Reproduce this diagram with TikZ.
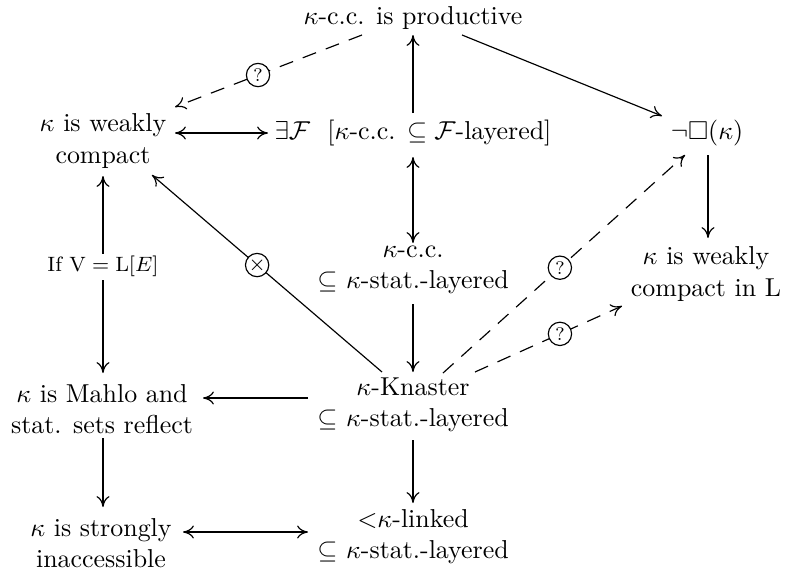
\documentclass[tikz,border=0pt]{standalone}
\usepackage{amssymb}
\usetikzlibrary{calc,arrows.meta}
\begin{document}
\begin{tikzpicture}[x=0.386pt,y=-0.386pt,
  txt/.style={align=center, inner sep=0pt},
  tipa/.tip={To[length=4.2pt,width=5pt,line width=0.45pt 0]},
  ar/.style={-tipa, line width=0.75pt},
  dar/.style={tipa-tipa, line width=0.75pt},
  dg/.style={-tipa, line width=0.45pt},
  dsh/.style={-tipa, line width=0.45pt, dash pattern=on 5.5pt off 4pt},
  qm/.style={circle, draw, line width=0.45pt, fill=white, inner sep=0pt, minimum size=9pt, font=\scriptsize, solid},
  cond/.style={fill=white, inner sep=1pt, font=\footnotesize}
]
\useasboundingbox (0,0) rectangle (785,570);

\node[txt] (top) at (413,18) {$\kappa$-c.c. is productive};
\node[txt] (F) at (413,133) {$\exists\mathcal{F}$\ \ [$\kappa$-c.c. $\subseteq\mathcal{F}$-layered]};
\node[txt] (box) at (707,133) {$\neg\square(\kappa)$};
\node[txt] (wc) at (103,141) {$\kappa$ is weakly\\compact};
\node[txt] (cc) at (413,270) {$\kappa$-c.c.\\$\subseteq$ $\kappa$-stat.-layered};
\node[txt] (wcL) at (706,274) {$\kappa$ is weakly\\compact in L};
\node[txt] (K) at (413,405) {$\kappa$-Knaster\\$\subseteq$ $\kappa$-stat.-layered};
\node[txt] (M) at (102,409) {$\kappa$ is Mahlo and\\stat. sets reflect};
\node[txt] (S) at (101,543) {$\kappa$ is strongly\\inaccessible};
\node[txt] (L) at (413,537) {${<}\kappa$-linked\\$\subseteq$ $\kappa$-stat.-layered};

% vertical / horizontal arrows
\draw[ar] ($(F)+(0,-20)$) -- ($(top)+(0,17)$);
\draw[dar] ($(cc)+(0,-27)$) -- ($(F)+(0,24)$);
\draw[ar] ($(cc)+(0,34)$) -- ($(K)+(0,-33)$);
\draw[ar] ($(K)+(0,35)$) -- ($(L)+(0,-34)$);
\draw[ar] ($(K)+(-105,-7)$) -- ($(M)+(101,-11)$);
\draw[ar] ($(M)+(1,29)$) -- ($(S)+(2,-36)$);
\draw[dar] ($(S)+(82,-11)$) -- ($(L)+(-105,-5)$);
\draw[dar] ($(wc)+(0,35)$) -- node[cond, pos=0.46] {If $\mathrm{V}=\mathrm{L}[E]$} ($(M)+(1,-36)$);
\draw[dar] ($(wc)+(72,-8)$) -- ($(F)+(-145,0)$);
\draw[ar] ($(box)+(1,22)$) -- ($(wcL)+(2,-36)$);

% diagonal arrows
\draw[dsh] ($(top)+(-51,17)$) -- node[qm, pos=0.556] {?} ($(wc)+(72,-34)$);
\draw[dg] ($(top)+(49,17)$) -- ($(box)+(-45,-17)$);
\draw[dsh] ($(K)+(30,-32)$) -- node[qm, pos=0.483] {?} ($(box)+(-22,22)$);
\draw[dsh] ($(K)+(62,-33)$) -- node[qm, pos=0.578] {?} ($(wcL)+(-84,32)$);
\draw[dg] ($(K)+(-31,-33)$) -- node[qm, pos=0.543, font=\footnotesize] {$\times$} ($(wc)+(49,34)$);
\end{tikzpicture}
\end{document}
